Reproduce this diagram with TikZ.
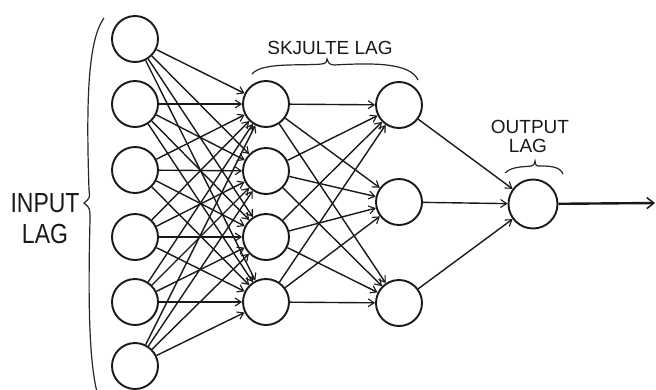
\documentclass[tikz,border=0pt]{standalone}
\usepackage{fontspec}
\setmainfont{Liberation Sans}
\usetikzlibrary{arrows.meta}
\begin{document}
\begin{tikzpicture}[x=1pt,y=-1pt,
  neuron/.style={circle,draw=black!90,line width=1.9pt,minimum size=46pt,inner sep=0pt},
  conn/.style={draw=black!90,line width=1.4pt,-{Straight Barb[length=6pt,width=8pt,line width=1.1pt]}},
  brace/.style={draw=black!85,line width=1.2pt},
  lbl/.style={text=black!90,inner sep=0pt,align=center}]
\useasboundingbox (0,0) rectangle (656,389);
% input layer
\foreach \i/\y in {1/39,2/104,3/170,4/237,5/302,6/366}
  \node[neuron] (i\i) at (135,\y) {};
% hidden layer 1
\foreach \i/\y in {1/104,2/171,3/237,4/302}
  \node[neuron] (h\i) at (266,\y) {};
% hidden layer 2
\foreach \i/\y in {1/105,2/202,3/303}
  \node[neuron] (g\i) at (399,\y) {};
% output
\node[neuron,minimum size=49pt] (o) at (533,204) {};
\coordinate (end) at (655,203);
% connections
\foreach \a in {1,...,6}
  \foreach \b in {1,...,4}
    \draw[conn] (i\a) -- (h\b);
\foreach \a in {1,...,4}
  \foreach \b in {1,...,3}
    \draw[conn] (h\a) -- (g\b);
\foreach \a in {1,...,3}
  \draw[conn] (g\a) -- (o);
\draw[draw=black!90,line width=2.4pt,-{Straight Barb[length=7pt,width=11pt,line width=1.5pt]}] (o) -- (end);
% labels
\node[lbl,font=\fontsize{23}{26}\selectfont] (inl) at (45,203) {\scalebox{1}[1.2]{INPUT}};
\node[lbl,font=\fontsize{23}{26}\selectfont] (inl2) at (45,234) {\scalebox{1}[1.2]{LAG}};
\node[lbl,font=\fontsize{19}{22}\selectfont] (sk) at (330,48) {SKJULTE LAG};
\node[lbl,font=\fontsize{19}{22}\selectfont] (ou) at (530,127) {OUTPUT};
\node[lbl,font=\fontsize{19}{22}\selectfont] (ou2) at (528,146) {LAG};
% braces
\draw[brace] (104,18) .. controls (88,40) and (86,100) .. (89,190)
  .. controls (90,198) .. (84,203) .. controls (90,208) .. (90,220)
  .. controls (88,300) and (89,360) .. (97,392);
\draw[brace] (252,74) .. controls (262,62) and (300,66) .. (322,64)
  .. controls (326,63) .. (327,59) .. controls (329,64) .. (334,65)
  .. controls (370,63) and (410,62) .. (418,80);
\draw[brace] (505,173) .. controls (512,166) and (525,167) .. (531,166)
  .. controls (534,165) .. (535,161) .. controls (536,166) .. (540,166)
  .. controls (552,166) and (560,167) .. (563,174);
\end{tikzpicture}
\end{document}
